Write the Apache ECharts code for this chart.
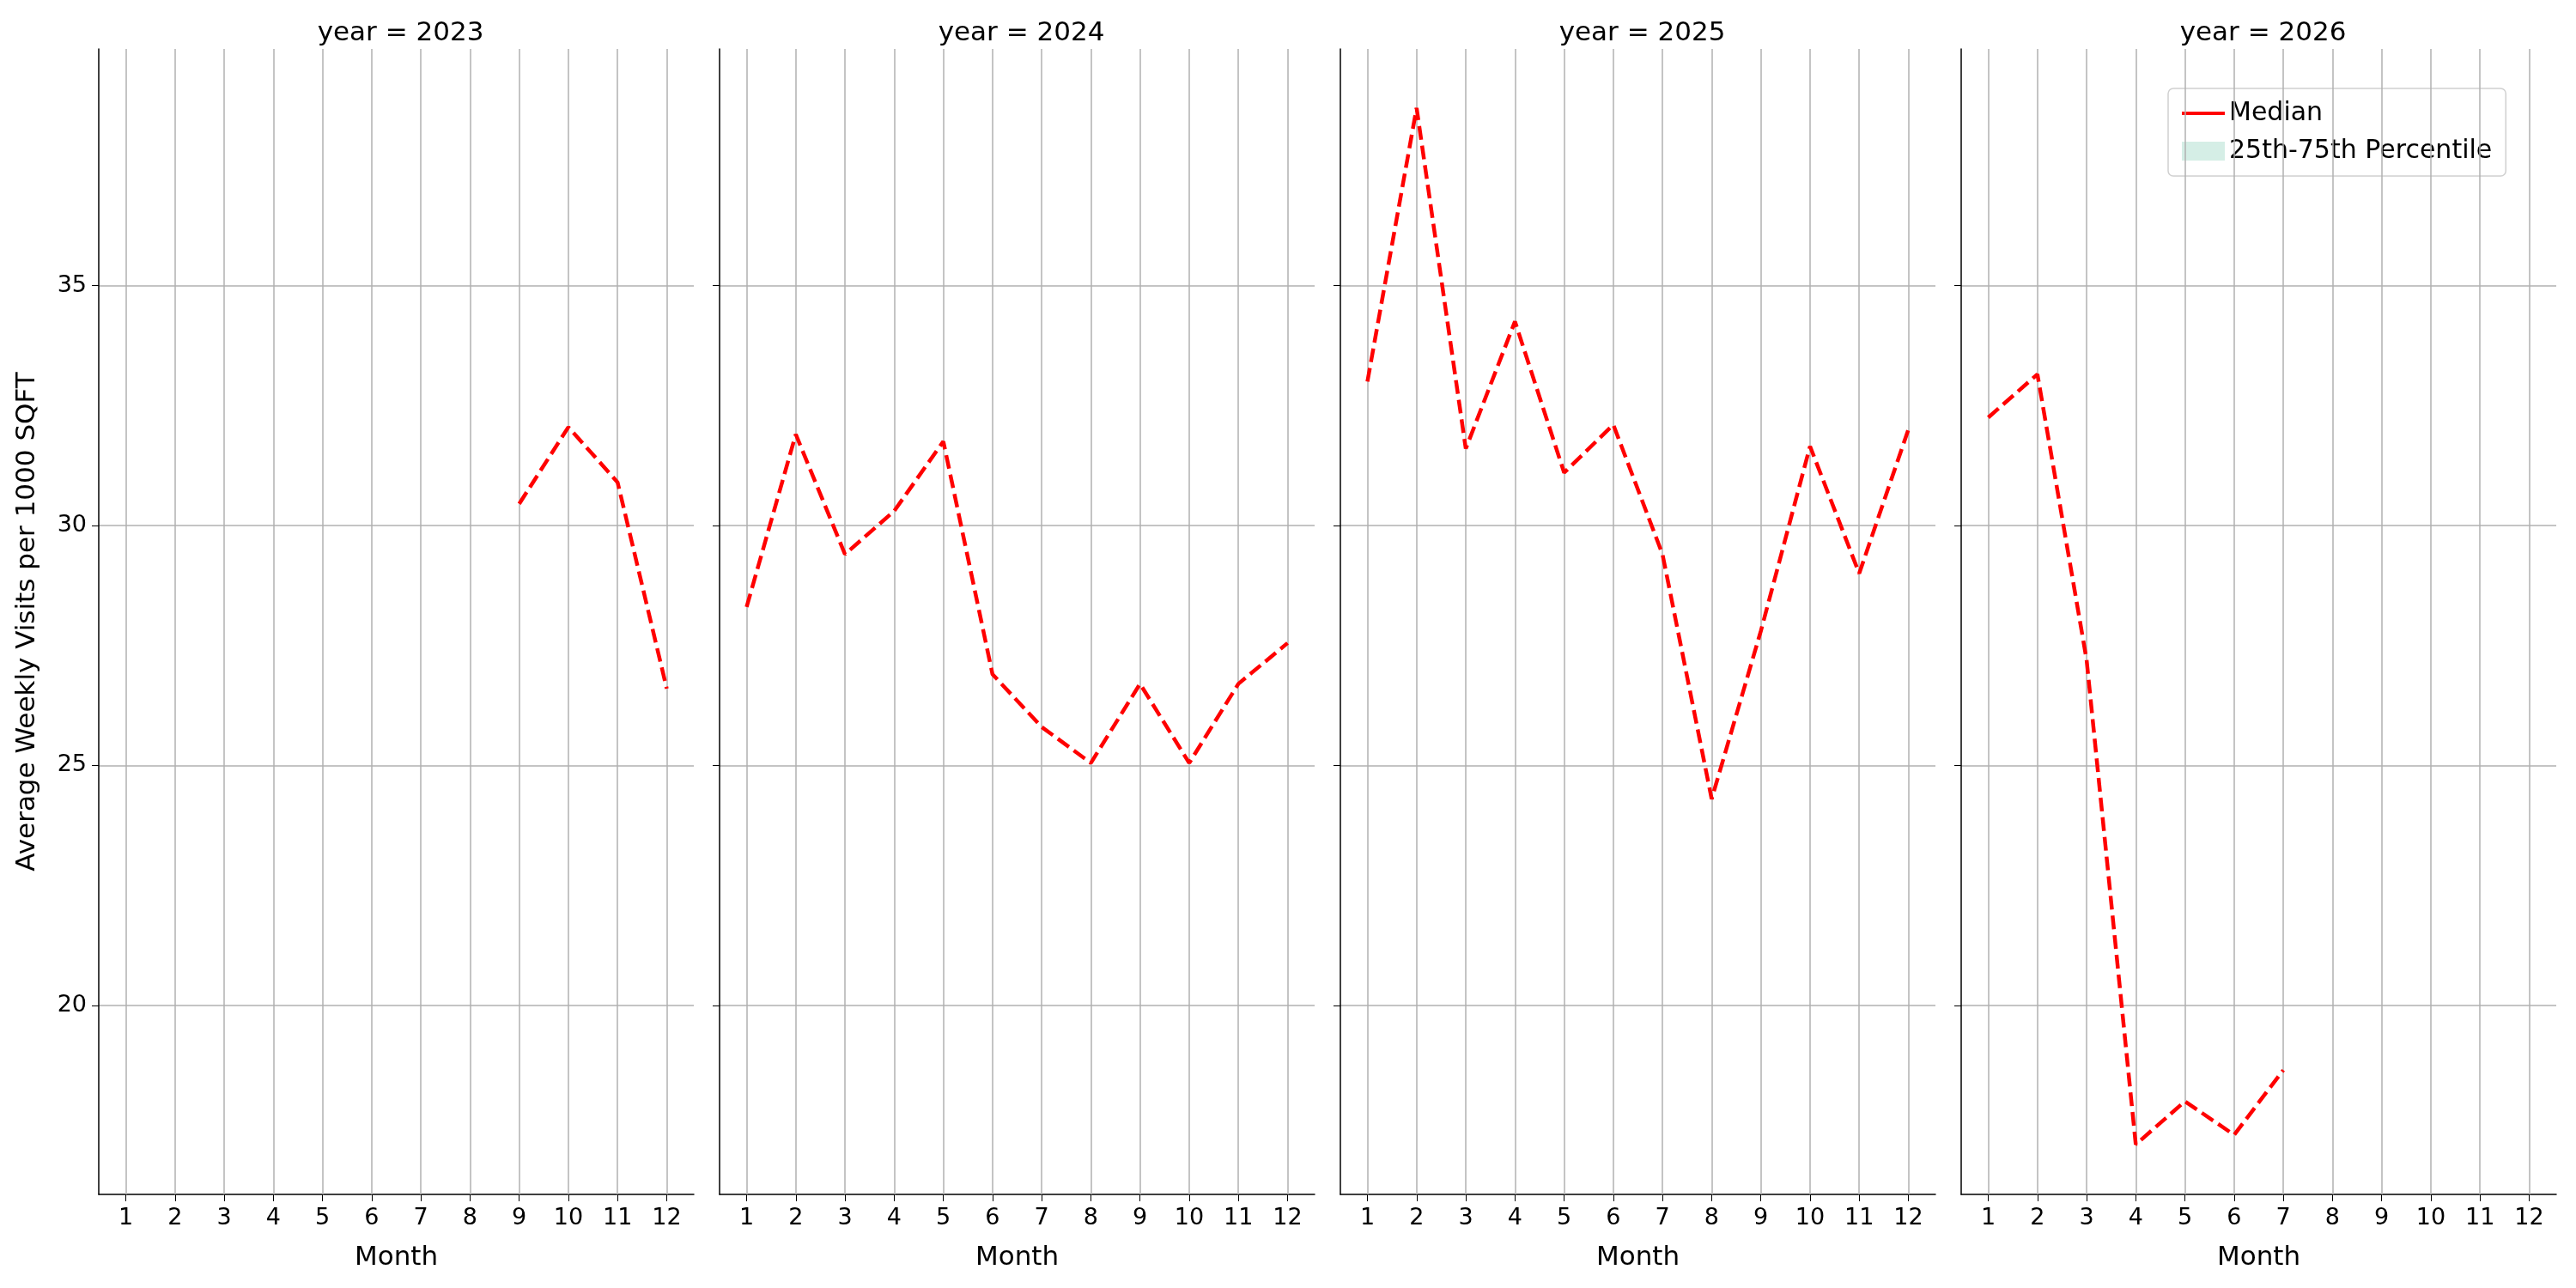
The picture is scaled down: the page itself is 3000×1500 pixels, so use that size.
<!DOCTYPE html>
<html><head><meta charset="utf-8">
<script src="https://cdn.jsdelivr.net/npm/echarts@6/dist/echarts.min.js"></script>
<style>html,body{margin:0;padding:0;background:#fff}#c{width:3000px;height:1500px}</style>
</head><body><div id="c"></div>
<script>
const years = ['2023','2024','2025','2026'];
const months = [1,2,3,4,5,6,7,8,9,10,11,12];
const yTicks = [20,25,30,35];
const median2023 = [null,null,null,null,null,null,null,null,30.45,32.05,30.9,26.6];
const median2024 = [28.3,31.9,29.4,30.3,31.75,26.9,25.8,25.05,26.7,25.05,26.7,27.55];
const median2025 = [33.0,38.7,31.6,34.25,31.1,32.1,29.4,24.3,27.8,31.65,29.0,32.0];
const median2026 = [32.25,33.15,27.2,17.1,18.0,17.3,18.65,null,null,null,null,null];
const medians = [median2023,median2024,median2025,median2026];

const lefts = [115,838,1561,2284], W = 693, TOP = 57, H = 1334;
const font = 'DejaVu Sans';
const grids=[],xAxes=[],yAxes=[],series=[],titles=[];
for(let i=0;i<4;i++){
  grids.push({left:lefts[i],top:TOP,width:W,height:H});
  titles.push({text:'year = '+years[i],left:lefts[i]+W/2,top:18,textAlign:'center',
    textStyle:{fontFamily:font,fontSize:31,fontWeight:'normal',color:'#000'}});
  xAxes.push({type:'value',gridIndex:i,min:0.45,max:12.55,
    name:'Month',nameLocation:'middle',nameGap:58,nameTextStyle:{fontFamily:font,fontSize:31,color:'#000'},
    axisLine:{show:true,onZero:false,lineStyle:{color:'#000',width:1.5}},
    axisTick:{show:true,length:8,lineStyle:{color:'#000'},customValues:months},
    axisLabel:{fontFamily:font,fontSize:27,color:'#000',margin:14,customValues:months},
    splitLine:{show:false}});
  yAxes.push({type:'value',gridIndex:i,min:16.06,max:39.93,
    name:i===0?'Average Weekly Visits per 1000 SQFT':'',nameLocation:'middle',nameGap:68,
    nameTextStyle:{fontFamily:font,fontSize:31,color:'#000'},
    axisLine:{show:true,lineStyle:{color:'#000',width:1.5}},
    axisTick:{show:true,length:8,lineStyle:{color:'#000'},customValues:yTicks},
    axisLabel:{show:i===0,fontFamily:font,fontSize:27,color:'#000',margin:14,customValues:yTicks},
    splitLine:{show:true,lineStyle:{color:'#b0b0b0',width:1.5}}});
  series.push({type:'line',name:'Median',xAxisIndex:i,yAxisIndex:i,
    data:months.map((m,k)=>[m,medians[i][k]]).filter(d=>d[1]!==null),
    symbol:'none',lineStyle:{color:'#ff0000',width:4.5,type:[16,7]},itemStyle:{color:'#ff0000'},z:5,
    markLine:{silent:true,symbol:'none',label:{show:false},animation:false,
      lineStyle:{color:'#b0b0b0',width:1.5,type:'solid'},
      data:months.map(m=>({xAxis:m}))}});
}
series.push({type:'line',name:'25th-75th Percentile',xAxisIndex:3,yAxisIndex:3,data:[],
  itemStyle:{color:'#d5eee6'},lineStyle:{color:'#d5eee6'},areaStyle:{color:'#d5eee6'}});
const chart = echarts.init(document.getElementById('c'));
chart.setOption({
  animation:false,
  title:titles,grid:grids,xAxis:xAxes,yAxis:yAxes,series:series,
  legend:{left:2525,top:103,orient:'vertical',backgroundColor:'#fff',borderColor:'#d0d0d0',borderWidth:1.5,
    borderRadius:6,padding:[14,16],itemGap:14,itemWidth:50,itemHeight:22,
    textStyle:{fontFamily:font,fontSize:30,color:'#000'},
    data:[{name:'Median',icon:'path://M0,0L50,0L50,4L0,4Z'},
          {name:'25th-75th Percentile',icon:'rect'}]}
});
</script></body></html>
